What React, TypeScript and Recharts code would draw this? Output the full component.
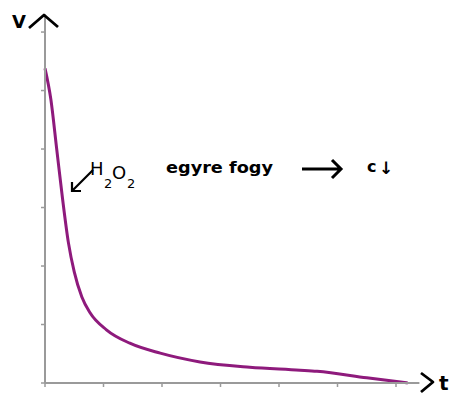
import { LineChart, Line, XAxis, YAxis } from "recharts";

// t and v in tick units
const times = [0, 0.1, 0.2, 0.3, 0.4, 0.5, 0.63, 0.77, 1.05, 1.45, 1.97, 2.65, 3.5, 4.36, 4.65, 5.5, 6.2];
const volumes = [5.38, 4.85, 4.0, 3.15, 2.4, 1.9, 1.47, 1.2, 0.91, 0.68, 0.51, 0.36, 0.27, 0.22, 0.2, 0.09, 0];
const tickValues = [0, 1, 2, 3, 4, 5, 6];

const data = times.map((t, i) => ({ t, v: volumes[i] }));

const AXIS = "#9a9a9a";
const CURVE = "#8e1a7c";

export default function App() {
  return (
    <div style={{ position: "absolute", left: 0, top: 0, width: 453, height: 394, background: "#fff" }}>
      <LineChart
        width={453}
        height={394}
        data={data}
        margin={{ top: 14.5, right: 33.6, bottom: 10, left: 44 }}
      >
        <XAxis
          type="number"
          dataKey="t"
          domain={[0, 6.4]}
          ticks={tickValues}
          height={1}
          tick={{ fontSize: 0 }}
          tickFormatter={() => ""}
          tickSize={4}
          stroke={AXIS}
          axisLine={{ stroke: AXIS, strokeWidth: 2 }}
          tickLine={{ stroke: AXIS, strokeWidth: 1.5 }}
        />
        <YAxis
          type="number"
          domain={[0, 6.3]}
          ticks={tickValues}
          width={1}
          tick={{ fontSize: 0 }}
          tickFormatter={() => ""}
          tickSize={4}
          stroke={AXIS}
          axisLine={{ stroke: AXIS, strokeWidth: 2 }}
          tickLine={{ stroke: AXIS, strokeWidth: 1.5 }}
        />
        <Line
          type="monotone"
          dataKey="v"
          stroke={CURVE}
          strokeWidth={3}
          dot={false}
          isAnimationActive={false}
        />
      </LineChart>
      <svg
        width={453}
        height={394}
        style={{ position: "absolute", left: 0, top: 0, pointerEvents: "none" }}
        fontFamily="'DejaVu Sans', sans-serif"
      >
        {/* axis names with hand-drawn arrow heads */}
        <text x={12} y={28} fontSize={18} fontWeight="bold" fill="#000">V</text>
        <path d="M29 28 L44 15 L58 27" fill="none" stroke="#000" strokeWidth={2.8} strokeLinejoin="round" />
        <path d="M421 373 L433 382 L421 392" fill="none" stroke="#000" strokeWidth={2.8} strokeLinejoin="round" />
        <text x={439} y={390} fontSize={20} fontWeight="bold" fill="#000">t</text>

        {/* annotation */}
        <path d="M93 170 L72 191 M72 182 L72 191 L81 191" fill="none" stroke="#000" strokeWidth={2.2} />
        <text x={90} y={175} fontSize={18} fill="#000">H</text>
        <text x={104} y={188} fontSize={13} fill="#000">2</text>
        <text x={112} y={179} fontSize={18} fill="#000">O</text>
        <text x={127} y={188} fontSize={13} fill="#000">2</text>
        <text x={166} y={173} fontSize={16} fontWeight="bold" fill="#000" textLength={107} lengthAdjust="spacingAndGlyphs">
          egyre fogy
        </text>
        <path d="M302 169 L341 169 M332 160 L341 169 L332 178" fill="none" stroke="#000" strokeWidth={3} />
        <text x={367} y={172} fontSize={16} fontWeight="bold" fill="#000">c</text>
        <text x={379} y={174} fontSize={17} fontWeight="bold" fill="#000">↓</text>
      </svg>
    </div>
  );
}
